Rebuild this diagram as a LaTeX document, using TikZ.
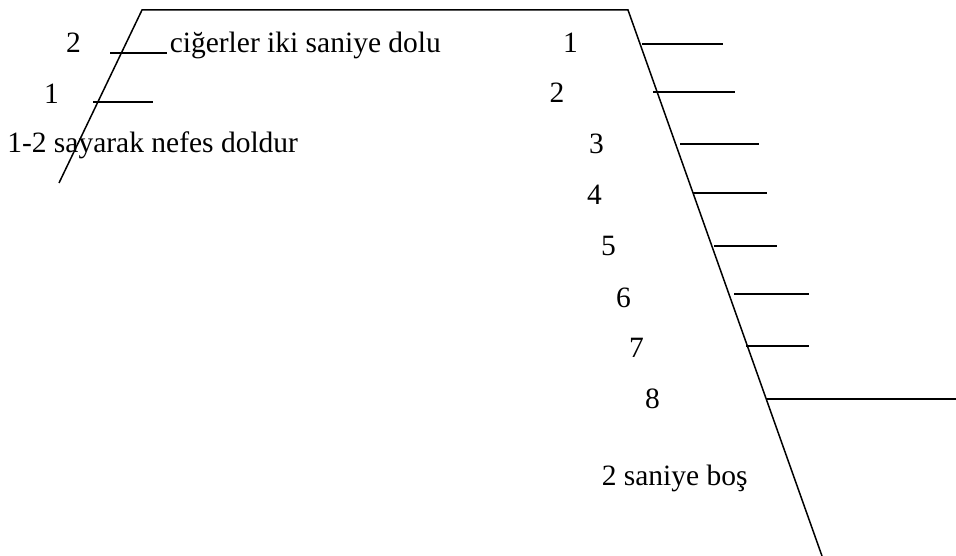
\documentclass[tikz,border=0pt]{standalone}
\usepackage{fontspec}
\setmainfont{Liberation Serif}
\begin{document}
\begin{tikzpicture}[x=1pt,y=-1pt,line width=1.5pt,
  lbl/.style={inner sep=0pt,anchor=base,font=\fontsize{29.5}{34}\selectfont},
  txt/.style={lbl,anchor=base west},
  tickline/.style={line width=1.5pt}]
\useasboundingbox (0,0) rectangle (956,556);
% main outline
\coordinate (LB) at (59,183);
\coordinate (LT) at (142,10);
\coordinate (RT) at (628,10);
\coordinate (RB) at (822,556);
\draw (LB) -- (LT) -- (RT) -- (RB);
% left ticks
\coordinate (la1) at (110,53);  \coordinate (lb1) at (167,53);
\coordinate (la2) at (93,102);  \coordinate (lb2) at (153,102);
\draw[tickline] (la1) -- (lb1);
\draw[tickline] (la2) -- (lb2);
% right ticks
\coordinate (ra1) at (642,44);  \coordinate (rb1) at (723,44);
\coordinate (ra2) at (653,92);  \coordinate (rb2) at (735,92);
\coordinate (ra3) at (680,144); \coordinate (rb3) at (759,144);
\coordinate (ra4) at (693,193); \coordinate (rb4) at (767,193);
\coordinate (ra5) at (714,246); \coordinate (rb5) at (777,246);
\coordinate (ra6) at (734,294); \coordinate (rb6) at (809,294);
\coordinate (ra7) at (746,346); \coordinate (rb7) at (809,346);
\coordinate (ra8) at (766,399); \coordinate (rb8) at (956,399);
\foreach \i in {1,...,8} {\draw[tickline] (ra\i) -- (rb\i);}
% left labels
\node[lbl] (l2) at (73.5,53) {2};
\node[txt] (full) at (169,53) {ciğerler iki saniye dolu};
\node[lbl] (l1) at (51.5,104) {1};
\node[txt] (fill) at (6.5,153) {1-2 sayarak nefes doldur};
% right labels
\node[lbl] (n1) at (570.5,53) {1};
\node[lbl] (n2) at (557,103) {2};
\node[lbl] (n3) at (596.5,154) {3};
\node[lbl] (n4) at (594.5,205) {4};
\node[lbl] (n5) at (608.5,256) {5};
\node[lbl] (n6) at (623.5,307) {6};
\node[lbl] (n7) at (636.5,357) {7};
\node[lbl] (n8) at (652.5,408) {8};
\node[txt] (empty) at (601,485) {2 saniye boş};
\end{tikzpicture}
\end{document}
